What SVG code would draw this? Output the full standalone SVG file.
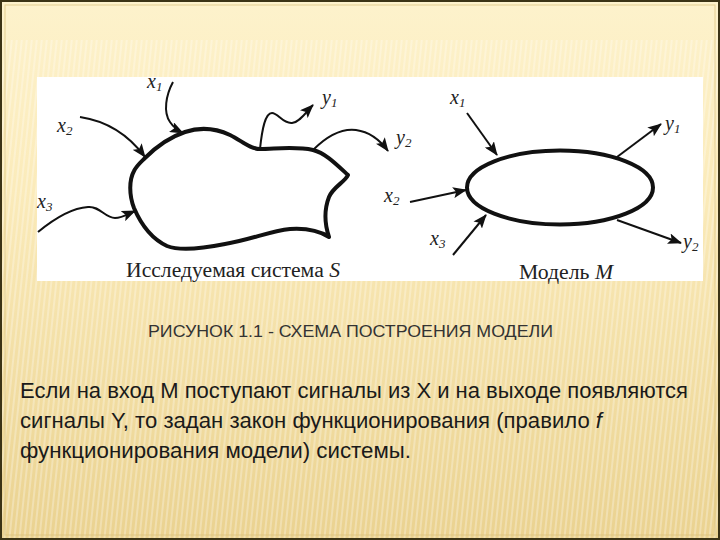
<svg xmlns="http://www.w3.org/2000/svg" width="720" height="540" viewBox="0 0 720 540">
  <defs>
    <linearGradient id="bg" x1="0" y1="0" x2="0" y2="1">
      <stop offset="0" stop-color="#fdf2cc"/>
      <stop offset="0.35" stop-color="#fbebba"/>
      <stop offset="1" stop-color="#ead290"/>
    </linearGradient>
    <pattern id="stripes" width="5" height="40" patternUnits="userSpaceOnUse" patternTransform="skewX(-6)">
      <rect x="0" y="0" width="2" height="40" fill="#ffffff" opacity="0.28"/>
    </pattern>
    <marker id="ah" viewBox="0 0 14 11" refX="13" refY="5.5" markerWidth="14" markerHeight="11" markerUnits="userSpaceOnUse" orient="auto">
      <path d="M0,0 L14,5.5 L0,11 L3,5.5 Z" fill="#111"/>
    </marker>
    <style>
      .shape{fill:none;stroke:#111;stroke-width:4;stroke-linejoin:round}
      .arr{fill:none;stroke:#111;stroke-width:2;marker-end:url(#ah)}
      .lbl{font-family:"Liberation Serif",serif;font-style:italic;font-size:20px;fill:#222}
      .sub{font-size:13px}
      .cap{font-family:"Liberation Serif",serif;font-size:20px;fill:#222}
      .title{font-family:"Liberation Sans","DejaVu Sans",sans-serif;font-size:16px;fill:#333}
      .body{font-family:"Liberation Sans","DejaVu Sans",sans-serif;font-size:22px;fill:#1a1a1a}
    </style>
  </defs>

  <rect x="0" y="0" width="720" height="540" fill="url(#bg)"/>
  <rect x="0" y="40" width="720" height="500" fill="url(#stripes)"/>
  <rect x="1" y="1" width="718" height="538" fill="none" stroke="#3b3315" stroke-width="2"/>
  <rect x="5" y="5" width="710" height="530" fill="none" stroke="#d8c07a" stroke-width="1" opacity="0.7"/>

  <rect x="37" y="77" width="666" height="204" fill="#ffffff"/>

  <g id="system-S">
    <path class="shape" d="M145,158 C158,145 170,137 185,132 C200,127 215,128 230,135 C242,141 250,149 260,149 C275,149 295,146 313,150 C325,153 335,163 348,175 C345,182 333,187 329,197 C324,210 325,225 329,237 C318,230 305,228 290,229 C270,231 250,240 225,244 C205,248 180,251 167,246 C150,238 140,222 134,208 C129,195 129,180 134,171 C137,165 141,162 145,158 Z"/>
    <text class="cap" x="126" y="277" textLength="214" lengthAdjust="spacingAndGlyphs">Исследуемая система <tspan font-style="italic">S</tspan></text>
  </g>

  <g id="model-M">
    <ellipse class="shape" cx="560" cy="187.5" rx="93" ry="37"/>
    <text class="cap" x="519" y="279" textLength="94" lengthAdjust="spacingAndGlyphs">Модель <tspan font-style="italic">M</tspan></text>
  </g>

  <g id="connectors">
    <path class="arr" d="M173,82 C166,95 163,112 170,122 C174,128 179,131 183,133"/>
    <path class="arr" d="M80,117 C100,120 125,130 145,157"/>
    <path class="arr" d="M38,232 C55,218 72,208 88,207 C100,206 105,218 115,218 C122,218 128,214 135,211"/>
    <path class="arr" d="M260,149 C262,130 265,113 272,113 C278,113 283,124 292,123 C300,122 306,112 313,105"/>
    <path class="arr" d="M313,150 C325,138 340,128 356,130 C370,132 380,140 388,151"/>
    <path class="arr" d="M467,113 L497,155"/>
    <path class="arr" d="M410,202 L466,190"/>
    <path class="arr" d="M453,255 L486,215"/>
    <path class="arr" d="M617,157 L661,124"/>
    <path class="arr" d="M617,220 L681,243"/>
  </g>

  <g id="labels">
    <text class="lbl" x="147" y="88">x<tspan class="sub" dy="3">1</tspan></text>
    <text class="lbl" x="57" y="132">x<tspan class="sub" dy="3">2</tspan></text>
    <text class="lbl" x="37" y="208">x<tspan class="sub" dy="3">3</tspan></text>
    <text class="lbl" x="322" y="104">y<tspan class="sub" dy="3">1</tspan></text>
    <text class="lbl" x="396" y="144">y<tspan class="sub" dy="3">2</tspan></text>
    <text class="lbl" x="450" y="104">x<tspan class="sub" dy="3">1</tspan></text>
    <text class="lbl" x="384" y="202">x<tspan class="sub" dy="3">2</tspan></text>
    <text class="lbl" x="430" y="245">x<tspan class="sub" dy="3">3</tspan></text>
    <text class="lbl" x="665" y="130">y<tspan class="sub" dy="3">1</tspan></text>
    <text class="lbl" x="683" y="248">y<tspan class="sub" dy="3">2</tspan></text>
  </g>

  <text class="title" x="148" y="337" textLength="405" lengthAdjust="spacingAndGlyphs">РИСУНОК  1.1 -  СХЕМА ПОСТРОЕНИЯ МОДЕЛИ</text>

  <text class="body" x="20" y="398" textLength="668" lengthAdjust="spacingAndGlyphs">Если на вход М поступают сигналы из Х и на выходе появляются</text>
  <text class="body" x="20" y="428" textLength="582" lengthAdjust="spacingAndGlyphs">сигналы Y, то задан закон функционирования (правило <tspan font-style="italic">f</tspan></text>
  <text class="body" x="20" y="458" textLength="391" lengthAdjust="spacingAndGlyphs">функционирования модели) системы.</text>
</svg>
